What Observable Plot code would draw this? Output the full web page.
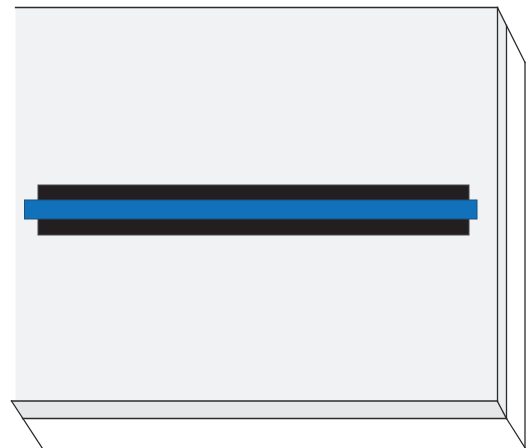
<!DOCTYPE html>
<html>
<head>
<meta charset="utf-8">
<script src="https://cdn.jsdelivr.net/npm/d3@7"></script>
<script src="https://cdn.jsdelivr.net/npm/@observablehq/plot@0.6"></script>
<style>
  html, body { margin: 0; padding: 0; background: #ffffff; }
  #chart svg { display: block; }
</style>
</head>
<body>
<div id="chart"></div>
<script>
// Diagram data in picture units (x to the right, y downward)
const panelNames = ["front", "side", "band"];
const panelFills = ["#f1f2f4", "#eceef0", "#e6e7e8"];
const panelPoints = [
  [[15, 7], [497, 7], [497, 401], [15, 401]],
  [[497, 7], [506, 25], [506, 418], [497, 401]],
  [[11, 400.5], [497, 400.5], [506, 418], [22, 418]]
];

const barNames = ["black bar", "blue bar"];
const barX1 = [38, 24.5];
const barX2 = [469, 477];
const barY1 = [185, 200];
const barY2 = [235, 219];
const barFills = ["#231f20", "#1172bb"];
const barStrokes = ["#4a4a4a", "#1d4f7c"];

const edgeX1 = [15, 497, 497, 506, 524.5, 11, 497, 22, 11, 506];
const edgeY1 = [7, 7, 7, 25, 62, 400.5, 401, 418, 400.5, 418];
const edgeX2 = [497, 497, 524.5, 506, 524.5, 497, 506, 506, 42, 525];
const edgeY2 = [7, 401, 62, 418, 448, 400.5, 418, 418, 448, 448];

// Build tables
const panels = panelNames.flatMap((name, i) =>
  panelPoints[i].map(([x, y]) => ({name, x, y, fill: panelFills[i]})));
const bars = barNames.map((name, i) => ({
  name, x1: barX1[i], x2: barX2[i], y1: barY1[i], y2: barY2[i],
  fill: barFills[i], stroke: barStrokes[i]
}));
const edges = edgeX1.map((x1, i) => ({x1, y1: edgeY1[i], x2: edgeX2[i], y2: edgeY2[i]}));

const chart = Plot.plot({
  width: 527,
  height: 448,
  margin: 0,
  x: {type: "linear", domain: [0, 527], range: [0, 527], axis: null},
  y: {type: "linear", domain: [0, 448], range: [0, 448], axis: null},
  style: {background: "#ffffff"},
  marks: [
    ...panelNames.map((name, i) =>
      Plot.line(panels.filter(d => d.name === name), {
        x: "x", y: "y", fill: panelFills[i], stroke: "none", curve: "linear-closed"
      })),
    Plot.rect(bars, {
      x1: "x1", x2: "x2", y1: "y1", y2: "y2",
      fill: d => d.fill, stroke: d => d.stroke, strokeWidth: 1
    }),
    Plot.link(edges, {
      x1: "x1", y1: "y1", x2: "x2", y2: "y2",
      stroke: "#2b2b2b", strokeWidth: 1.3, strokeLinecap: "square"
    })
  ]
});
document.getElementById("chart").appendChild(chart);
</script>
</body>
</html>
